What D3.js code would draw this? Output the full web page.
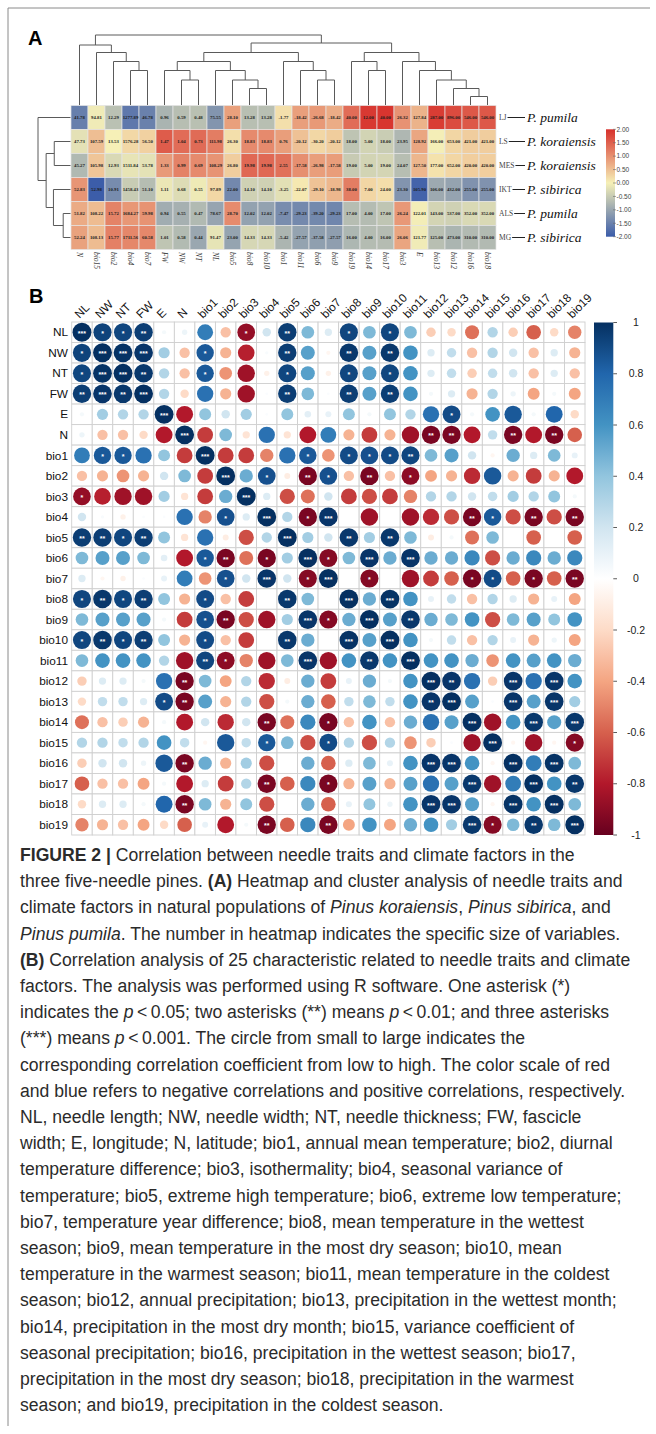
<!DOCTYPE html>
<html>
<head>
<meta charset="utf-8">
<script src="https://cdn.jsdelivr.net/npm/d3@7"></script>
<style>
  body { margin: 0; background: #fff; }
  svg { display: block; }
</style>
</head>
<body>
<svg id="fig" width="656" height="1434"></svg>
<script>
// ---------- panel A : heatmap data ----------
const heatCols = ["N","bio15","bio2","bio4","bio7","FW","NW","NT","NL","bio5","bio8","bio10","bio1","bio11","bio6","bio9","bio19","bio14","bio17","bio3","E","bio13","bio12","bio16","bio18"];
const sites = ["LJ","LS","MES","IKT","ALS","MG"];
const species = ["P. pumila","P. koraiensis","P. koraiensis","P. sibirica","P. pumila","P. sibirica"];

const valLJ  = [41.78, 94.81, 12.29, 1277.89, 46.78, 0.96, 0.59, 0.48, 75.55, 28.10, 13.28, 13.28, -1.77, -18.42, -26.68, -18.42, 40.00, 12.00, 40.00, 26.32, 127.84, 287.00, 896.00, 546.00, 546.00];
const valLS  = [47.73, 107.59, 13.53, 1576.28, 56.50, 1.47, 1.04, 0.73, 111.98, 26.30, 18.83, 18.83, 0.76, -20.12, -30.20, -20.12, 18.00, 5.00, 18.00, 23.95, 128.92, 166.00, 653.00, 421.00, 421.00];
const valMES = [45.27, 105.98, 12.93, 1511.84, 53.78, 1.33, 0.99, 0.69, 108.29, 26.80, 19.98, 19.98, 2.55, -17.58, -26.98, -17.58, 19.00, 5.00, 19.00, 24.07, 127.50, 177.00, 652.00, 420.00, 420.00];
const valIKT = [52.83, 52.98, 10.91, 1458.43, 51.10, 1.11, 0.68, 0.55, 97.89, 22.00, 14.10, 14.10, -3.25, -22.07, -29.10, -18.98, 38.00, 7.00, 24.00, 23.30, 105.90, 106.00, 432.00, 255.00, 255.00];
const valALS = [51.82, 108.22, 15.72, 1684.27, 59.98, 0.94, 0.55, 0.47, 78.67, 28.70, 12.02, 12.02, -7.47, -29.23, -39.20, -29.23, 17.00, 4.00, 17.00, 26.24, 122.01, 143.00, 537.00, 352.00, 352.00];
const valMG  = [52.24, 108.13, 15.77, 1711.56, 60.58, 1.01, 0.58, 0.44, 91.47, 23.00, 14.33, 14.33, -5.42, -27.57, -37.58, -27.57, 16.00, 4.00, 16.00, 26.06, 121.77, 125.00, 473.00, 310.00, 310.00];

// dendrograms: [height, left, right], leaves are indices
const colTree = [14, [12.0, 0, [10.5, 1, [8.7, 2, [6.9, 3, 4]]]],
  [12.4,
    [10.5, [8.7, [6.9, 5, [5, 6, 7]], [6.9, 8, [5, 9, [3.3, 10, 11]]]], [8.7, 12, [6.9, 13, [5, 14, 15]]]],
    [10.5, [8.7, 16, [6.9, 17, 18]], [8.7, 19, [6.9, 20, [5, 21, [3.3, 22, [1.7, 23, 24]]]]]]]];
const rowTree = [8, 0, [6, [4, 1, 2], [4.2, 3, [1.8, 4, 5]]]];
const heatTicks = [2, 1.5, 1, 0.5, 0, -0.5, -1, -1.5, -2];

// ---------- panel B : correlation data (upper triangle, row by row) ----------
const vars = ["NL","NW","NT","FW","E","N","bio1","bio2","bio3","bio4","bio5","bio6","bio7","bio8","bio9","bio10","bio11","bio12","bio13","bio14","bio15","bio16","bio17","bio18","bio19"];
const corrUpper = [
  [1, .93, .92, .95, .05, .08, .70, -.30, -.88, .20, .95, .45, .15, .92, .45, .92, .45, -.25, -.20, -.55, .30, -.25, -.60, -.20, -.50],
  [1, .99, .98, .35, -.30, .85, -.35, -.78, .03, .95, .55, -.05, .97, .55, .97, .60, .15, .25, -.30, .30, .20, -.30, .15, -.35],
  [1, .97, .30, -.30, .85, -.45, -.85, -.08, .92, .55, -.08, .92, .55, .92, .60, .15, .25, -.25, .25, .20, -.30, .15, -.30],
  [1, .30, -.20, .75, -.35, -.85, .02, .95, .45, .02, .95, .55, .95, .60, .05, .15, -.35, .30, .08, -.40, .05, -.40],
  [1, -.80, .40, .20, .35, .02, .40, .12, .10, .40, .05, .40, .30, .75, .90, .05, .60, .85, .05, .80, -.20],
  [1, -.70, .45, -.15, .75, -.15, -.80, .70, -.35, -.70, -.35, -.85, -.95, -.95, -.80, .25, -.95, -.80, -.95, -.60],
  [1, -.70, -.70, -.50, .75, .85, -.45, .90, .88, .90, .92, .45, .55, .20, -.05, .50, .15, .45, .10],
  [1, .50, .88, -.10, -.95, .88, -.30, -.95, -.30, -.90, -.40, -.35, -.75, .85, -.35, -.70, -.35, -.80],
  [1, .15, -.65, -.55, .20, -.70, -.65, -.70, -.50, .30, .30, .20, .25, .35, .30, .40, .05],
  [1, .30, -.95, .98, .00, -.85, .00, -.85, -.75, -.65, -.95, .85, -.65, -.95, -.65, -.95],
  [1, .35, .20, .97, .35, .97, .45, -.10, .05, -.55, .45, .00, -.60, .00, -.60],
  [1, -.92, .45, .98, .50, .98, .50, .50, .65, -.65, .50, .65, .50, .65],
  [1, .00, -.92, .00, -.85, -.70, -.60, -.95, .90, -.60, -.95, -.60, -.95],
  [1, .50, .99, .60, .10, .25, -.30, .30, .15, -.35, .10, -.40],
  [1, .55, .97, .50, .45, .60, -.65, .45, .55, .40, .60],
  [1, .60, .05, .25, -.30, .30, .10, -.35, .08, -.40],
  [1, .60, .60, .50, -.45, .60, .55, .60, .50],
  [1, .98, .75, -.25, .98, .75, .98, .60],
  [1, .55, .02, .98, .55, .98, .35],
  [1, -.85, .60, .97, .55, .97],
  [1, -.05, -.85, -.05, -.92],
  [1, .70, .99, .45],
  [1, .60, .97],
  [1, .45],
  [1]
];
const starsUpper = [
  [3,1,1,2,0,0,0,0,1,0,2,0,0,1,0,1,0,0,0,0,0,0,0,0,0],
  [3,3,3,0,0,1,0,0,0,2,0,0,2,0,2,0,0,0,0,0,0,0,0,0],
  [3,2,0,0,1,0,0,0,1,0,0,1,0,1,0,0,0,0,0,0,0,0,0],
  [3,0,0,0,0,0,0,2,0,0,2,0,2,0,0,0,0,0,0,0,0,0],
  [3,0,0,0,0,0,0,0,0,0,0,0,0,0,1,0,0,0,0,0,0],
  [3,0,0,0,0,0,0,0,0,0,0,0,2,2,0,0,2,0,2,0],
  [3,0,0,0,0,1,0,1,1,1,2,0,0,0,0,0,0,0,0],
  [3,0,1,0,2,1,0,2,0,1,0,0,0,0,0,0,0,0],
  [3,0,0,0,0,0,0,0,0,0,0,0,0,0,0,0,0],
  [3,0,1,3,0,0,0,0,0,0,2,1,0,2,0,2],
  [3,0,0,2,0,2,0,0,0,0,0,0,0,0,0],
  [3,1,0,3,0,3,0,0,0,0,0,0,0,0],
  [3,0,1,0,0,0,0,1,1,0,1,0,2],
  [3,0,3,0,0,0,0,0,0,0,0,0],
  [3,0,2,0,0,0,0,0,0,0,0],
  [3,0,0,0,0,0,0,0,0,0],
  [3,0,0,0,0,0,0,0,0],
  [3,2,0,0,3,0,3,0],
  [3,0,0,3,0,3,0],
  [3,0,0,3,0,3],
  [3,0,0,0,1],
  [3,0,3,0],
  [3,0,2],
  [3,0],
  [3]
];
const corrTicks = [1, 0.8, 0.6, 0.4, 0.2, 0, -0.2, -0.4, -0.6, -0.8, -1];

const captionLines = [
  "<b>FIGURE 2 |</b> Correlation between needle traits and climate factors in the",
  "three five-needle pines. <b>(A)</b> Heatmap and cluster analysis of needle traits and",
  "climate factors in natural populations of <i>Pinus koraiensis</i>, <i>Pinus sibirica</i>, and",
  "<i>Pinus pumila</i>. The number in heatmap indicates the specific size of variables.",
  "<b>(B)</b> Correlation analysis of 25 characteristic related to needle traits and climate",
  "factors. The analysis was performed using R software. One asterisk (*)",
  "indicates the <i>p</i>\u2009<\u20090.05; two asterisks (**) means <i>p</i>\u2009<\u20090.01; and three asterisks",
  "(***) means <i>p</i>\u2009<\u20090.001. The circle from small to large indicates the",
  "corresponding correlation coefficient from low to high. The color scale of red",
  "and blue refers to negative correlations and positive correlations, respectively.",
  "NL, needle length; NW, needle width; NT, needle thickness; FW, fascicle",
  "width; E, longitude; N, latitude; bio1, annual mean temperature; bio2, diurnal",
  "temperature difference; bio3, isothermality; bio4, seasonal variance of",
  "temperature; bio5, extreme high temperature; bio6, extreme low temperature;",
  "bio7, temperature year difference; bio8, mean temperature in the wettest",
  "season; bio9, mean temperature in the most dry season; bio10, mean",
  "temperature in the warmest season; bio11, mean temperature in the coldest",
  "season; bio12, annual precipitation; bio13, precipitation in the wettest month;",
  "bio14, precipitation in the most dry month; bio15, variance coefficient of",
  "seasonal precipitation; bio16, precipitation in the wettest season; bio17,",
  "precipitation in the most dry season; bio18, precipitation in the warmest",
  "season; and bio19, precipitation in the coldest season."
];

const svg = d3.select("#fig");
const defs = svg.append("defs");

// frame lines (top and left)
svg.append("line").attr("x1", 8).attr("y1", 8).attr("x2", 650).attr("y2", 8)
  .attr("stroke", "#8a8a8a").attr("stroke-width", 1);
svg.append("line").attr("x1", 8).attr("y1", 8).attr("x2", 8).attr("y2", 1426)
  .attr("stroke", "#8a8a8a").attr("stroke-width", 1);

// panel letters
svg.append("text").attr("x", 28).attr("y", 45).text("A")
  .style("font", "bold 20px 'Liberation Sans', Arial, sans-serif");
svg.append("text").attr("x", 29).attr("y", 303).text("B")
  .style("font", "bold 20px 'Liberation Sans', Arial, sans-serif");

// ================= Panel A =================
const heatVals = [valLJ, valLS, valMES, valIKT, valALS, valMG];
const hx = d3.scaleBand().domain(heatCols).range([71, 496]);
const hy = d3.scaleBand().domain(sites).range([105.5, 249.5]);

// column-wise z-scores (pheatmap scale = "column")
const zcol = heatCols.map((c, j) => {
  const col = heatVals.map(r => r[j]);
  const m = d3.mean(col), s = d3.deviation(col);
  return col.map(v => (v - m) / s);
});
const heatColor = d3.scaleLinear().domain([-2, 0, 2])
  .range(["#3b5ca9", "#f6f0b7", "#d7302b"]).clamp(true);

const cells = [];
heatVals.forEach((row, i) => row.forEach((v, j) => cells.push({ i, j, v, z: zcol[j][i] })));

const gA = svg.append("g");
gA.selectAll("rect.cell").data(cells).enter().append("rect")
  .attr("x", d => hx(heatCols[d.j]))
  .attr("y", d => hy(sites[d.i]))
  .attr("width", hx.bandwidth())
  .attr("height", hy.bandwidth())
  .attr("fill", d => heatColor(d.z))
  .attr("stroke", "#e4e4e4")
  .attr("stroke-width", 0.7);

gA.selectAll("text.num").data(cells).enter().append("text")
  .attr("x", d => hx(heatCols[d.j]) + hx.bandwidth() / 2)
  .attr("y", d => hy(sites[d.i]) + hy.bandwidth() / 2)
  .attr("dy", "0.35em")
  .attr("text-anchor", "middle")
  .style("font", "bold 4.8px 'Liberation Serif', 'Times New Roman', serif")
  .attr("fill", "#1c1c1c")
  .text(d => d.v.toFixed(2));

// dendrograms
function dendro(node, leafPos, seg) {
  if (typeof node === "number") return [leafPos(node), 0];
  const [h, a, b] = node;
  const A = dendro(a, leafPos, seg), B = dendro(b, leafPos, seg);
  seg(A[0], A[1], A[0], h);
  seg(B[0], B[1], B[0], h);
  seg(A[0], h, B[0], h);
  return [(A[0] + B[0]) / 2, h];
}
const gTree = svg.append("g").attr("stroke", "#5a5a5a").attr("stroke-width", 1).attr("fill", "none");
const colH = d3.scaleLinear().domain([0, 14]).range([105, 35]);
dendro(colTree, k => hx(heatCols[k]) + hx.bandwidth() / 2, (p1, h1, p2, h2) => {
  gTree.append("line").attr("x1", p1).attr("y1", colH(h1)).attr("x2", p2).attr("y2", colH(h2));
});
const rowH = d3.scaleLinear().domain([0, 8]).range([70.5, 38]);
dendro(rowTree, k => hy(sites[k]) + hy.bandwidth() / 2, (p1, h1, p2, h2) => {
  gTree.append("line").attr("x1", rowH(h1)).attr("y1", p1).attr("x2", rowH(h2)).attr("y2", p2);
});

// column labels
gA.selectAll("text.col").data(heatCols).enter().append("text")
  .attr("transform", d => `translate(${hx(d) + hx.bandwidth() / 2},252) rotate(90)`)
  .attr("dy", "0.35em")
  .style("font", "italic 7.5px 'Liberation Serif', 'Times New Roman', serif")
  .attr("fill", "#333")
  .text(d => d);

// row labels + species
sites.forEach((s, i) => {
  const yc = hy(s) + hy.bandwidth() / 2;
  const t = gA.append("text").attr("x", 499).attr("y", yc).attr("dy", "0.35em")
    .style("font", "7.5px 'Liberation Serif', 'Times New Roman', serif")
    .attr("fill", "#444").text(s);
  const w = t.node().getComputedTextLength();
  gA.append("line").attr("x1", 499 + w + 1).attr("x2", 525).attr("y1", yc).attr("y2", yc)
    .attr("stroke", "#222").attr("stroke-width", 1);
  gA.append("text").attr("x", 527).attr("y", yc).attr("dy", "0.35em")
    .style("font", "italic 13.5px 'Liberation Serif', 'Times New Roman', serif")
    .attr("fill", "#111").text(species[i]);
});

// heat legend
const legY = d3.scaleLinear().domain([-2, 2]).range([236.7, 129.3]);
const gradA = defs.append("linearGradient").attr("id", "gradA")
  .attr("x1", 0).attr("y1", 1).attr("x2", 0).attr("y2", 0);
d3.range(-2, 2.01, 0.5).forEach(v => {
  gradA.append("stop").attr("offset", (v + 2) / 4).attr("stop-color", heatColor(v));
});
gA.append("rect").attr("x", 606).attr("y", legY(2)).attr("width", 9)
  .attr("height", legY(-2) - legY(2)).attr("fill", "url(#gradA)");
heatTicks.forEach(v => {
  gA.append("line").attr("x1", 613).attr("x2", 616).attr("y1", legY(v)).attr("y2", legY(v))
    .attr("stroke", "#666").attr("stroke-width", 0.6);
  gA.append("text").attr("x", 616.5).attr("y", legY(v)).attr("dy", "0.35em")
    .style("font", "6.5px 'Liberation Sans', Arial, sans-serif")
    .attr("fill", "#444").text(v.toFixed(2));
});

// ================= Panel B =================
const n = vars.length;
const corr = vars.map(() => new Array(n).fill(0));
const stars = vars.map(() => new Array(n).fill(0));
corrUpper.forEach((row, i) => row.forEach((v, k) => {
  const j = i + k;
  corr[i][j] = corr[j][i] = v;
  stars[i][j] = stars[j][i] = starsUpper[i][k];
}));

const cx = d3.scaleBand().domain(vars).range([71.7, 585]);
const cy = d3.scaleBand().domain(vars).range([322, 835]);
const corrColor = d3.scaleLinear()
  .domain([-1, -0.8, -0.6, -0.4, -0.2, 0, 0.2, 0.4, 0.6, 0.8, 1])
  .range(["#67001F", "#B2182B", "#D6604D", "#F4A582", "#FDDBC7", "#FFFFFF", "#D1E5F0", "#92C5DE", "#4393C3", "#2166AC", "#053061"]);

const pairs = [];
vars.forEach((a, i) => vars.forEach((b, j) => pairs.push({ a, b, r: corr[i][j], s: stars[i][j] })));

const gB = svg.append("g");
gB.selectAll("rect.c").data(pairs).enter().append("rect")
  .attr("x", d => cx(d.b)).attr("y", d => cy(d.a))
  .attr("width", cx.bandwidth()).attr("height", cy.bandwidth())
  .attr("fill", "#fff").attr("stroke", "#cfcfcf").attr("stroke-width", 0.9);

const cell = Math.min(cx.bandwidth(), cy.bandwidth());
gB.selectAll("circle").data(pairs).enter().append("circle")
  .attr("cx", d => cx(d.b) + cx.bandwidth() / 2)
  .attr("cy", d => cy(d.a) + cy.bandwidth() / 2)
  .attr("r", d => 0.46 * Math.sqrt(Math.abs(d.r)) * cell)
  .attr("fill", d => corrColor(d.r));

gB.selectAll("text.star").data(pairs.filter(d => d.s > 0)).enter().append("text")
  .attr("x", d => cx(d.b) + cx.bandwidth() / 2)
  .attr("y", d => cy(d.a) + cy.bandwidth() / 2 + 3.6)
  .attr("text-anchor", "middle")
  .style("font", "bold 7px 'Liberation Sans', Arial, sans-serif")
  .attr("fill", "#fff")
  .text(d => "*".repeat(d.s));

// labels
gB.selectAll("text.rl").data(vars).enter().append("text")
  .attr("x", 68).attr("y", d => cy(d) + cy.bandwidth() / 2).attr("dy", "0.35em")
  .attr("text-anchor", "end")
  .style("font", "11.8px 'Liberation Sans', Arial, sans-serif")
  .attr("fill", "#111").text(d => d);
gB.selectAll("text.cl").data(vars).enter().append("text")
  .attr("transform", d => `translate(${cx(d) + cx.bandwidth() / 2 - 2.5},319) rotate(-45)`)
  .style("font", "11.8px 'Liberation Sans', Arial, sans-serif")
  .attr("fill", "#111").text(d => d);

// color bar
const barY = d3.scaleLinear().domain([-1, 1]).range([835, 322.5]);
const gradB = defs.append("linearGradient").attr("id", "gradB")
  .attr("x1", 0).attr("y1", 1).attr("x2", 0).attr("y2", 0);
d3.range(-1, 1.001, 0.1).forEach(v => {
  gradB.append("stop").attr("offset", (v + 1) / 2).attr("stop-color", corrColor(v));
});
gB.append("rect").attr("x", 594).attr("y", barY(1)).attr("width", 19.3)
  .attr("height", barY(-1) - barY(1)).attr("fill", "url(#gradB)");
corrTicks.forEach(v => {
  gB.append("line").attr("x1", 613.3).attr("x2", 617).attr("y1", barY(v)).attr("y2", barY(v))
    .attr("stroke", "#333").attr("stroke-width", 0.8);
  gB.append("text").attr("x", 636).attr("y", barY(v)).attr("dy", "0.35em")
    .attr("text-anchor", "middle")
    .style("font", "10.5px 'Liberation Sans', Arial, sans-serif")
    .attr("fill", "#222").text(Math.abs(v) < 1e-9 ? "0" : String(+v.toFixed(1)));
});

// ================= caption =================
const gC = svg.append("g").style("font", "17.6px 'Liberation Sans', Arial, sans-serif").attr("fill", "#2b2b2b");
captionLines.forEach((line, k) => {
  const t = gC.append("text").attr("x", 20).attr("y", 861 + k * 26.2);
  let bold = false, ital = false;
  line.split(/(<\/?[bi]>)/).forEach(part => {
    if (part === "<b>") bold = true;
    else if (part === "</b>") bold = false;
    else if (part === "<i>") ital = true;
    else if (part === "</i>") ital = false;
    else if (part.length) {
      t.append("tspan").text(part)
        .attr("font-weight", bold ? "bold" : null)
        .attr("font-style", ital ? "italic" : null);
    }
  });
});
</script>
</body>
</html>
